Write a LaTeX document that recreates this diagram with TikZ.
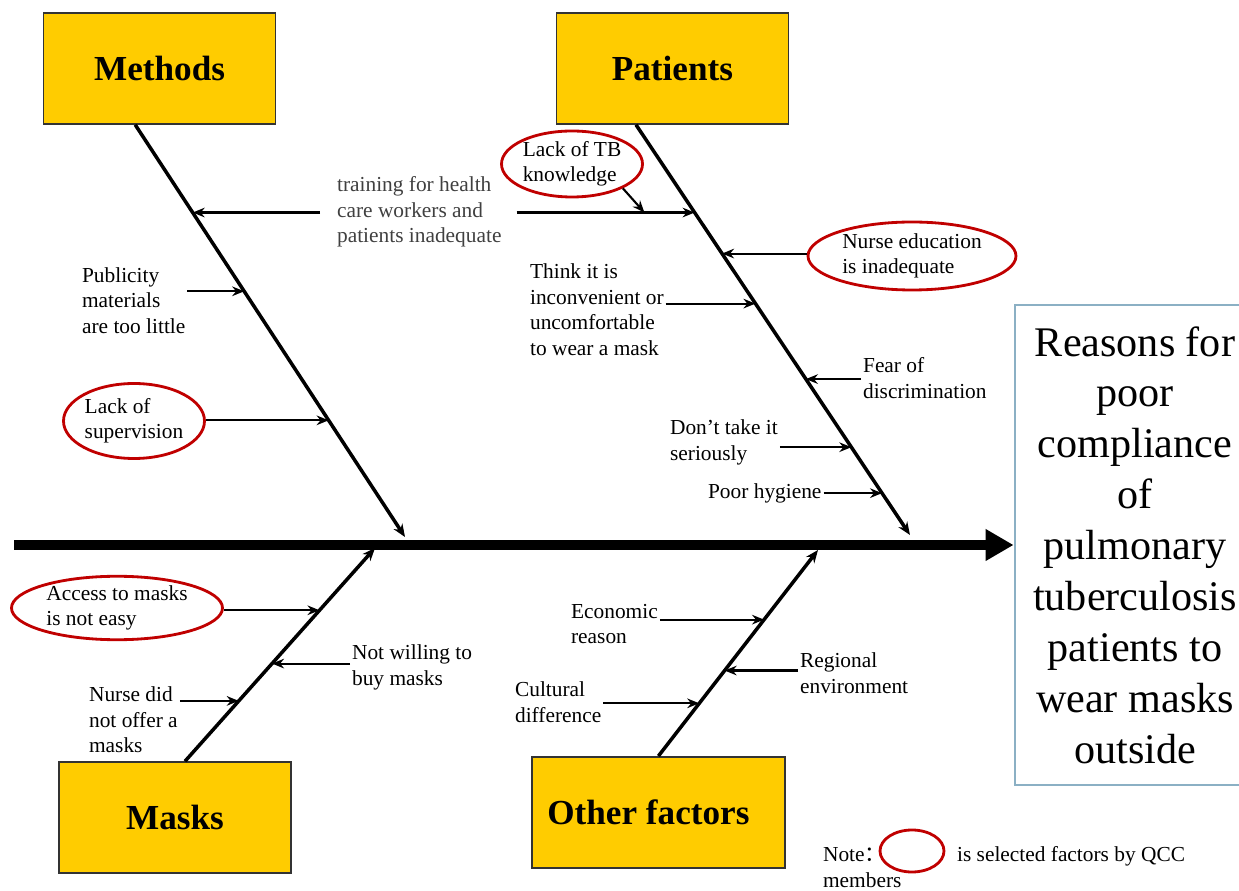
\documentclass[tikz,border=0pt]{standalone}
\usepackage{fontspec}
\setmainfont{Liberation Serif}
\newfontfamily\cjkfont{Noto Sans CJK SC}
\usetikzlibrary{shapes.geometric, arrows.meta, positioning, calc}
\definecolor{boxgold}{HTML}{FFCC00}
\definecolor{selred}{HTML}{C00000}
\definecolor{effectblue}{HTML}{8BB0C4}
\definecolor{textgrey}{HTML}{404040}
\tikzstyle{category} = [rectangle, minimum width=5.8cm, minimum height=2.775cm, text centered, draw=black!80, line width=1.2pt, fill=boxgold, font=\fontsize{25}{30}\selectfont\bfseries]
\tikzstyle{cause} = [inner sep=0pt, outer sep=1.5pt, align=left, anchor=west, font=\fontsize{15.2}{18.1}\selectfont]
\tikzstyle{selected} = [ellipse, draw=selred, line width=2pt, inner sep=0pt, align=left, font=\fontsize{15.2}{18.1}\selectfont]
\tikzstyle{effect} = [rectangle, draw=effectblue, line width=2pt, minimum width=6cm, minimum height=12cm, align=center, font=\fontsize{30}{36.2}\selectfont]
\tikzstyle{arrow_spine} = [line width=7pt, -{Triangle[length=7mm, width=7.5mm]}]
\tikzstyle{arrow_bone} = [line width=2.5pt, -{Stealth[length=3.2mm, width=2.6mm]}]
\tikzstyle{arrow_cause} = [line width=1.5pt, -{Stealth[length=3mm, width=2.4mm]}]

\begin{document}
\begin{tikzpicture}
	\useasboundingbox (0,0) rectangle (30.975,22.25);

		% Category boxes and the effect
		\node (methods) at (3.99,20.54) [category] {Methods};
		\node (patients) at (16.81,20.54) [category] {Patients};
		\node (masks) at (4.375,1.81) [category] {Masks};
		\node (other) at (16.46,1.94) [category, minimum width=6.325cm] {Other factors\hspace*{0.5cm}};

		\node (effect) at (28.375,8.625) [effect] {Reasons for\\poor\\compliance\\of\\pulmonary\\tuberculosis\\patients to\\wear masks\\outside};

		% Causes
		\node (training) at (8.375,16.95) [cause, text=textgrey] {training for health\\care workers and\\patients inadequate};
		\node (publicity) at (2.0,14.74) [cause] {Publicity\\materials\\are too little};
		\node (supervision) at (3.35,11.725) [selected, minimum width=3.525cm, minimum height=1.875cm] {Lack of\\supervision};

		\node (tb) at (14.3,18.15) [selected, minimum width=3.525cm, minimum height=1.65cm] {Lack of TB\\knowledge};
		\node (nurseedu) at (22.8,15.85) [selected, minimum width=5.2cm, minimum height=1.7cm] {Nurse education\\is inadequate};
		\node (inconvenient) at (13.2,14.51) [cause] {Think it is\\inconvenient or\\uncomfortable\\to wear a mask};
		\node (fear) at (21.525,12.8) [cause] {Fear of\\discrimination};
		\node (donttake) at (16.7,11.19) [cause] {Don’t take it\\seriously};
		\node (hygiene) at (17.65,9.925) [cause] {Poor hygiene};

		\node (access) at (2.925,7.05) [selected, minimum width=5.275cm, minimum height=1.5cm] {Access to masks\\is not easy};
		\node (notwilling) at (8.75,5.56) [cause] {Not willing to\\buy masks};
		\node (nursedid) at (2.175,4.25) [cause] {Nurse did\\not offer a\\masks};

		\node (economic) at (14.225,6.65) [cause] {Economic\\reason};
		\node (regional) at (19.95,5.425) [cause] {Regional\\environment};
		\node (cultural) at (12.825,4.7) [cause] {Cultural\\difference};

		% Note
		\node (note) at (20.525,0.875) [cause] {Note{\cjkfont ：}};
		\node (noteoval) at (22.8,0.975) [selected, minimum width=1.6cm, minimum height=1.05cm] {};
		\node (qcc) at (23.875,0.85) [cause] {is selected factors by QCC};
		\node (members) at (20.525,0.25) [cause] {members};

		% Spine and bones
		\coordinate (tail) at (0.35,8.625);
		\draw [arrow_spine] (tail) -- (effect.west);

		\coordinate (mtip) at (10.125,8.825);
		\coordinate (ptip) at (22.75,8.875);
		\coordinate (ktip) at (9.375,8.55);
		\coordinate (otip) at (20.45,8.5);
		\draw [arrow_bone] ($(methods.south)+(-0.61,0)$) -- coordinate[pos=0.213] (m1) coordinate[pos=0.404] (m2) coordinate[pos=0.717] (m3) (mtip);
		\draw [arrow_bone] ($(patients.south)+(-0.91,0)$) -- coordinate[pos=0.214] (p1) coordinate[pos=0.314] (p2) coordinate[pos=0.436] (p3) coordinate[pos=0.620] (p4) coordinate[pos=0.786] (p5) coordinate[pos=0.898] (p6) (ptip);
		\draw [arrow_bone] ($(masks.north)+(0.25,0)$) -- coordinate[pos=0.283] (k1) coordinate[pos=0.458] (k2) coordinate[pos=0.708] (k3) (ktip);
		\draw [arrow_bone] (other.north) -- coordinate[pos=0.256] (o1) coordinate[pos=0.415] (o2) coordinate[pos=0.662] (o3) (otip);

		% Arrows from the causes to the bones
		\draw [arrow_cause] ($(training.west |- m1)+(-0.375,0)$) -- (m1);
		\draw [arrow_cause] ($(training.east |- p1)+(0.325,0)$) -- coordinate[pos=0.718] (tbjoin) (p1);
		\draw [arrow_cause] (publicity.east |- m2) -- (m2);
		\draw [arrow_cause] (supervision.east |- m3) -- (m3);
		% -
		\draw [arrow_cause] (tb.south east) -- (tbjoin);
		\draw [arrow_cause] (nurseedu.west |- p2) -- (p2);
		\draw [arrow_cause] (inconvenient.east |- p3) -- (p3);
		\draw [arrow_cause] (fear.west |- p4) -- (p4);
		\draw [arrow_cause] (donttake.east |- p5) -- (p5);
		\draw [arrow_cause] (hygiene.east |- p6) -- (p6);
		% -
		\draw [arrow_cause] (access.east |- k3) -- (k3);
		\draw [arrow_cause] (notwilling.west |- k2) -- (k2);
		\draw [arrow_cause] (nursedid.east |- k1) -- (k1);
		% -
		\draw [arrow_cause] (economic.east |- o3) -- (o3);
		\draw [arrow_cause] (regional.west |- o2) -- (o2);
		\draw [arrow_cause] (cultural.east |- o1) -- (o1);

	\end{tikzpicture}
\end{document}
